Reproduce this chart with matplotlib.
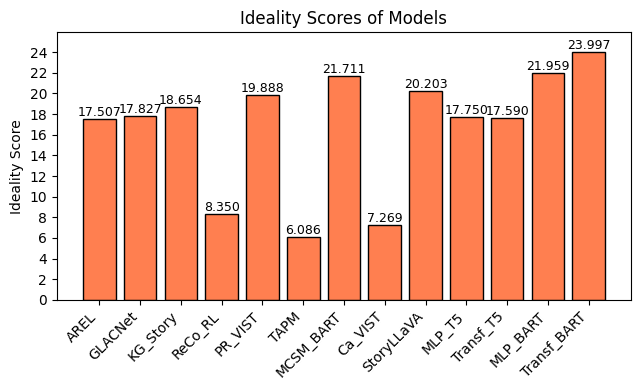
import matplotlib
matplotlib.use("Agg")
import matplotlib.pyplot as plt
import numpy as np

models = ["AREL", "GLACNet", "KG_Story", "ReCo_RL", "PR_VIST", "TAPM", "MCSM_BART",
          "Ca_VIST", "StoryLLaVA", "MLP_T5", "Transf_T5", "MLP_BART", "Transf_BART"]
scores = [17.507, 17.827, 18.654, 8.350, 19.888, 6.086, 21.711,
          7.269, 20.203, 17.750, 17.590, 21.959, 23.997]

fig, ax = plt.subplots(figsize=(6.4, 3.9), dpi=100)
bars = ax.bar(models, scores, color="coral", edgecolor="black")
for b, s in zip(bars, scores):
    ax.text(b.get_x() + b.get_width() / 2, b.get_height(), f"{s:.3f}",
            ha="center", va="bottom", fontsize=9)

ax.set_title("Ideality Scores of Models")
ax.set_ylabel("Ideality Score")
ax.set_ylim(0, max(scores) * 1.08)
ax.set_yticks(np.arange(0, 25, 2))
plt.setp(ax.get_xticklabels(), rotation=45, ha="right")
plt.subplots_adjust(left=0.089, right=0.986, top=0.917, bottom=0.231)
plt.savefig("out.png")
